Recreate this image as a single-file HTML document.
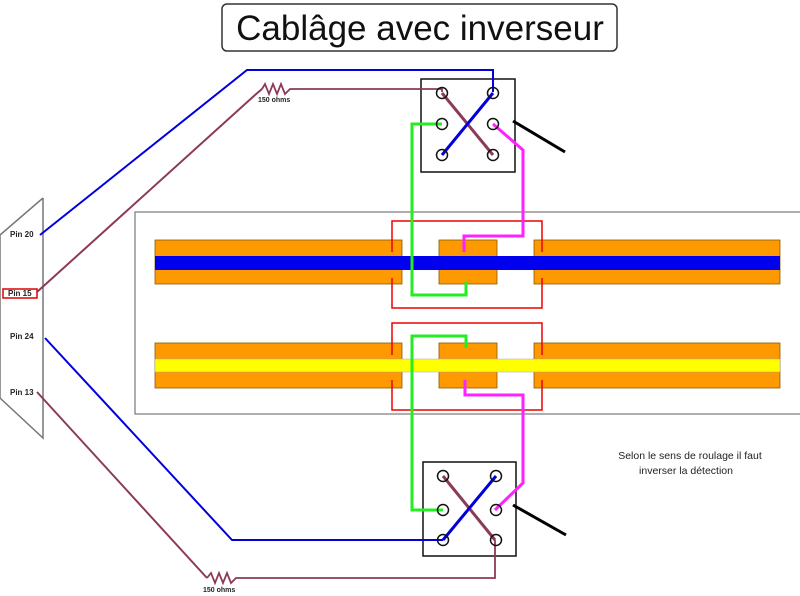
<!DOCTYPE html>
<html><head><meta charset="utf-8"><style>
html,body{margin:0;padding:0;background:#fff;}
svg{display:block;}
</style></head><body>
<svg width="800" height="596" viewBox="0 0 800 596" xmlns="http://www.w3.org/2000/svg" font-family="Liberation Sans, sans-serif">
<rect width="800" height="596" fill="#fff"/>
<!-- title -->
<rect x="222" y="4" width="395" height="47" rx="5" fill="#fff" stroke="#333" stroke-width="1.5"/>
<text x="420" y="40" text-anchor="middle" font-size="35" fill="#111">Cablâge avec inverseur</text>
<!-- connector -->
<polyline points="43,198 0,235 0,398 43,438 43,198" fill="none" stroke="#777" stroke-width="1.5"/>
<text x="10" y="237" font-size="8" font-weight="bold" fill="#222">Pin 20</text>
<rect x="3" y="289" width="34" height="9" fill="#fff" stroke="#d00" stroke-width="1.5"/>
<text x="8" y="296" font-size="8" font-weight="bold" fill="#222">Pin 15</text>
<text x="10" y="339" font-size="8" font-weight="bold" fill="#222">Pin 24</text>
<text x="10" y="395" font-size="8" font-weight="bold" fill="#222">Pin 13</text>
<!-- frame -->
<rect x="135" y="212" width="670" height="202" fill="#fff" stroke="#777" stroke-width="1.2"/>
<!-- top track -->
<g fill="#f90" stroke="#8a5a00" stroke-width="0.8">
<rect x="155" y="240" width="247" height="44"/><rect x="439" y="240" width="58" height="44"/><rect x="534" y="240" width="246" height="44"/>
<rect x="155" y="343" width="247" height="45"/><rect x="439" y="343" width="58" height="45"/><rect x="534" y="343" width="246" height="45"/>
</g>
<rect x="155" y="256" width="625" height="14" fill="#0000ee"/>
<rect x="155" y="359" width="625" height="13" fill="#ffff00" stroke="#aa9" stroke-width="0.5"/>
<!-- red boxes -->
<g fill="none" stroke="#e00" stroke-width="1.5">
<polyline points="392,252 392,221 542,221 542,252"/>
<polyline points="392,278 392,308 542,308 542,278"/>
<polyline points="392,355 392,323 542,323 542,355"/>
<polyline points="392,380 392,410 542,410 542,380"/>
</g>
<!-- top switch -->
<rect x="421" y="79" width="94" height="93" fill="none" stroke="#111" stroke-width="1.5"/>
<line x1="513" y1="121" x2="565" y2="152" stroke="#000" stroke-width="3"/>
<!-- bottom switch -->
<rect x="423" y="462" width="93" height="94" fill="none" stroke="#111" stroke-width="1.5"/>
<line x1="513" y1="505" x2="566" y2="535" stroke="#000" stroke-width="3"/>
<!-- wires top -->
<polyline points="40,235 247,70 493,70 493,92" fill="none" stroke="#0000dd" stroke-width="2"/>
<polyline points="37,292 255,95 262,89" fill="none" stroke="#8b3a5a" stroke-width="2"/>
<polyline points="262,89 265,84 269,94 273,84 277,94 281,84 285,94 290,89 442,89 442,92" fill="none" stroke="#8b3a5a" stroke-width="1.8"/>
<text x="258" y="102" font-size="7" font-weight="bold" fill="#222">150 ohms</text>
<line x1="442" y1="93" x2="493" y2="155" stroke="#8b3a5a" stroke-width="3"/>
<line x1="493" y1="93" x2="442" y2="155" stroke="#0000dd" stroke-width="3"/>
<polyline points="442,124 412,124 412,295 466,295 466,282" fill="none" stroke="#22ee22" stroke-width="3"/>
<polyline points="493,124 523,150 523,236 464,236 464,252" fill="none" stroke="#ff22ff" stroke-width="3"/>
<!-- wires bottom -->
<polyline points="45,338 232,540 443,540" fill="none" stroke="#0000dd" stroke-width="2"/>
<polyline points="37,392 207,578" fill="none" stroke="#8b3a5a" stroke-width="2"/>
<polyline points="207,578 211,573 215,583 219,573 223,583 227,573 231,583 236,578 495,578 495,540" fill="none" stroke="#8b3a5a" stroke-width="1.8"/>
<text x="203" y="592" font-size="7" font-weight="bold" fill="#222">150 ohms</text>
<line x1="443" y1="476" x2="495" y2="540" stroke="#8b3a5a" stroke-width="3"/>
<line x1="443" y1="540" x2="496" y2="476" stroke="#0000dd" stroke-width="3"/>
<polyline points="466,348 466,336 412,336 412,510 443,510" fill="none" stroke="#22ee22" stroke-width="3"/>
<polyline points="465,380 465,395 523,395 523,483 495,510" fill="none" stroke="#ff22ff" stroke-width="3"/>
<!-- circles -->
<g fill="#fff" stroke="#111" stroke-width="1.5" fill-opacity="0">
<circle cx="442" cy="93" r="5.5"/><circle cx="493" cy="93" r="5.5"/>
<circle cx="442" cy="124" r="5.5"/><circle cx="493" cy="124" r="5.5"/>
<circle cx="442" cy="155" r="5.5"/><circle cx="493" cy="155" r="5.5"/>
<circle cx="443" cy="476" r="5.5"/><circle cx="496" cy="476" r="5.5"/>
<circle cx="443" cy="510" r="5.5"/><circle cx="496" cy="510" r="5.5"/>
<circle cx="443" cy="540" r="5.5"/><circle cx="496" cy="540" r="5.5"/>
</g>
<text x="690" y="459" text-anchor="middle" font-size="10.5" fill="#222">Selon le sens de roulage il faut</text>
<text x="686" y="474" text-anchor="middle" font-size="10.5" fill="#222">inverser la détection</text>
</svg>
</body></html>
